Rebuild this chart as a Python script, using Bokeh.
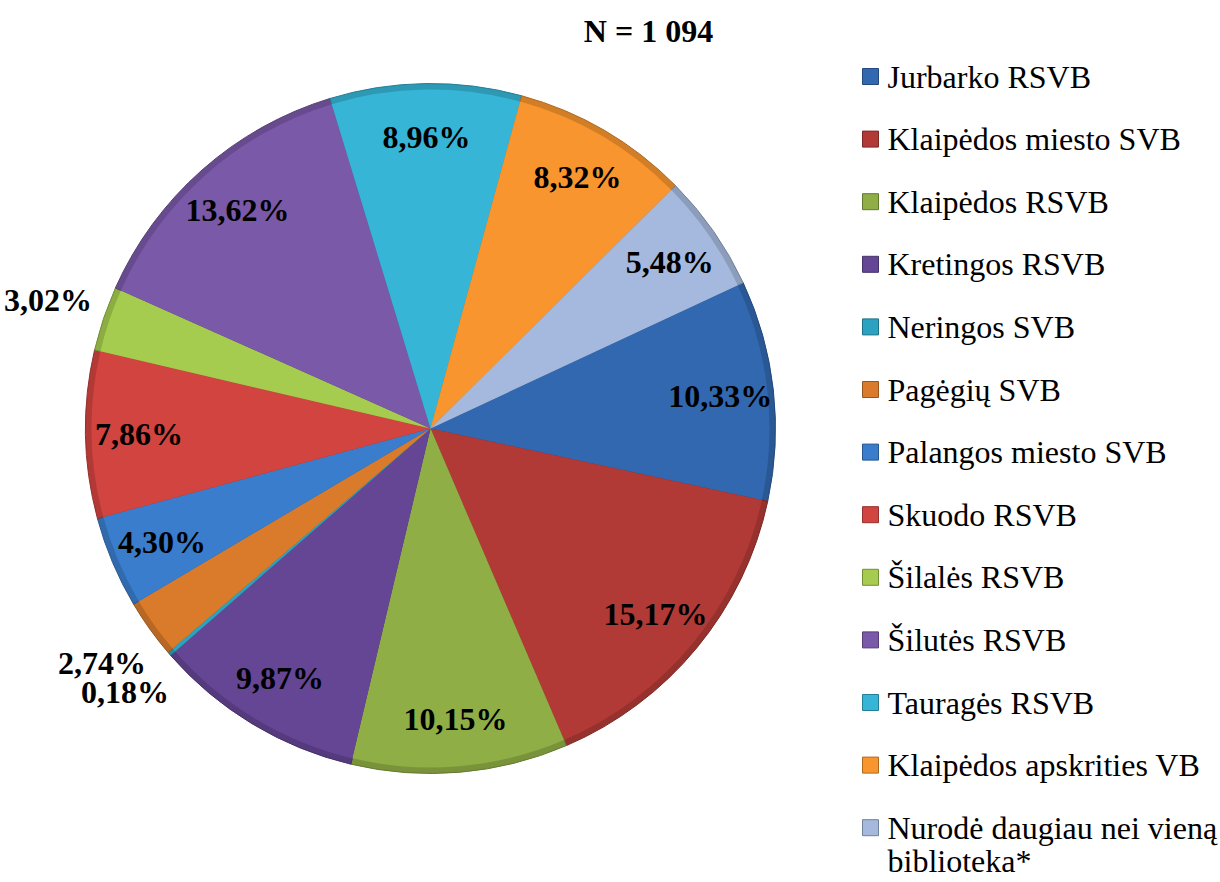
import math
import textwrap
from bokeh.plotting import figure
from bokeh.models import Range1d
from bokeh.core.properties import value
from bokeh.embed import file_html
from bokeh.resources import INLINE

# ---- data ----
categories = [
    "Jurbarko RSVB", "Klaipėdos miesto SVB", "Klaipėdos RSVB", "Kretingos RSVB",
    "Neringos SVB", "Pagėgių SVB", "Palangos miesto SVB", "Skuodo RSVB",
    "Šilalės RSVB", "Šilutės RSVB", "Tauragės RSVB", "Klaipėdos apskrities VB",
    "Nurodė daugiau nei vieną biblioteka*",
]
percents = [10.33, 15.17, 10.15, 9.87, 0.18, 2.74, 4.30, 7.86, 3.02, 13.62, 8.96, 8.32, 5.48]
colors = [
    "#3268b0", "#b23a36", "#8fae45", "#654695", "#2ba2c0", "#d97b2b", "#3a7dcc",
    "#d2443f", "#a5cc4e", "#7a59a8", "#36b5d6", "#f8952f", "#a4b9dd",
]
title_text = "N = 1 094"

# ---- layout ----
W, H = 1220, 882
CX, CY, R = 430, 454, 345
START_DEG = 25.0
FONT = "Liberation Serif"

p = figure(width=W, height=H, output_backend="svg", toolbar_location=None,
           x_range=Range1d(0, W), y_range=Range1d(0, H), min_border=0)
p.axis.visible = False
p.grid.visible = False
p.outline_line_color = None
p.background_fill_color = "white"


def darker(hexc, f=0.8):
    r, g, b = (int(hexc[i:i + 2], 16) for i in (1, 3, 5))
    return "#%02x%02x%02x" % (int(r * f), int(g * f), int(b * f))


total = sum(percents)
cum = 0.0
starts, ends, lx, ly, ltxt = [], [], [], [], []
for pct in percents:
    a0 = math.radians(START_DEG - 360 * cum / total)
    cum += pct
    a1 = math.radians(START_DEG - 360 * cum / total)
    starts.append(a1)
    ends.append(a0)
    mid = (a0 + a1) / 2
    rr = R * (1.17 if pct < 3.5 else 0.845)
    lx.append(CX + rr * math.cos(mid))
    ly.append(CY + rr * math.sin(mid))
    ltxt.append(("%.2f%%" % pct).replace(".", ","))

# slices (darker rim + main fill for a soft bevel)
p.wedge(x=[CX] * len(percents), y=[CY] * len(percents), radius=R,
        start_angle=starts, end_angle=ends, fill_color=[darker(c, 0.85) for c in colors],
        line_color=[darker(c, 0.7) for c in colors], line_width=1)
p.wedge(x=[CX] * len(percents), y=[CY] * len(percents), radius=R - 6,
        start_angle=starts, end_angle=ends, fill_color=colors,
        line_color=None)

# data labels
p.text(x=lx, y=ly, text=ltxt, text_font=value(FONT), text_font_style="bold",
       text_font_size="32px", text_align="center", text_baseline="middle", text_color="black")

# title
p.text(x=[648], y=[852], text=[title_text], text_font=value(FONT), text_font_style="bold",
       text_font_size="32px", text_align="center", text_baseline="middle", text_color="black")

# legend
row0, step = 806, 62.6
mx, tx = 870, 887
for i, (cat, c) in enumerate(zip(categories, colors)):
    y = row0 - step * i
    p.rect(x=[mx], y=[y], width=16, height=16, fill_color=c, line_color=darker(c, 0.7), line_width=1)
    lines = textwrap.wrap(cat, 24)
    for j, ln in enumerate(lines):
        p.text(x=[tx], y=[y - 33 * j], text=[ln], text_font=value(FONT),
               text_font_size="32px", text_align="left", text_baseline="middle", text_color="black")

open("out.html", "w").write(file_html(p, INLINE))
